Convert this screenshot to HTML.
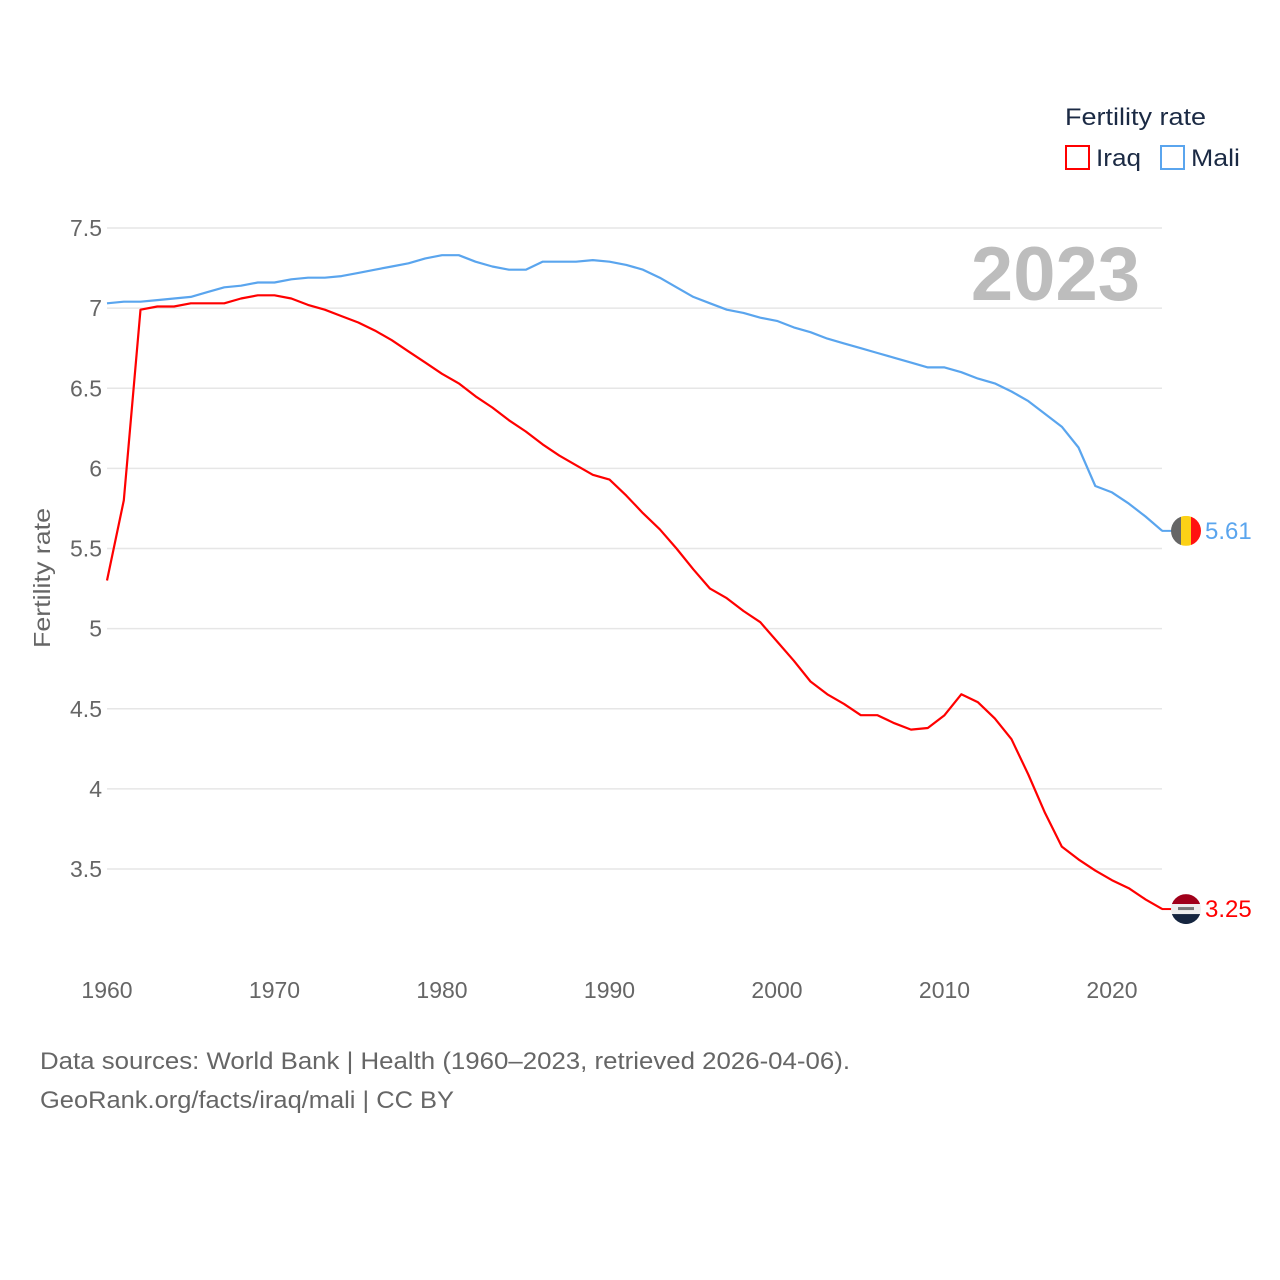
<!DOCTYPE html>
<html><head><meta charset="utf-8"><style>
body{margin:0;background:#fff;font-family:"Liberation Sans",sans-serif}
svg{display:block}
</style></head><body>
<svg id="chart" width="1280" height="1280" xmlns="http://www.w3.org/2000/svg">
<rect width="1280" height="1280" fill="#fff"/>
<g id="grid"></g>
<g id="ylabels" font-size="23" fill="#666" text-anchor="end"></g>
<g id="xlabels" font-size="23" fill="#666" text-anchor="middle"></g>
<text x="1140" y="300" font-size="76" font-weight="bold" fill="#bdbdbd" text-anchor="end">2023</text>
<text transform="translate(50,578) rotate(-90)" font-size="23" fill="#666" text-anchor="middle" textLength="140" lengthAdjust="spacingAndGlyphs">Fertility rate</text>
<g id="series"></g>
<g>
<text x="1065" y="125" font-size="24" fill="#1b2a44" textLength="141" lengthAdjust="spacingAndGlyphs">Fertility rate</text>
<g><rect x="1066" y="146" width="23" height="23" fill="none" stroke="#ff0000" stroke-width="2"/><text x="1096" y="166" font-size="24" fill="#1b2a44" textLength="45" lengthAdjust="spacingAndGlyphs">Iraq</text></g>
<g><rect x="1161" y="146" width="23" height="23" fill="none" stroke="#5aa5ee" stroke-width="2"/><text x="1191" y="166" font-size="24" fill="#1b2a44" textLength="49" lengthAdjust="spacingAndGlyphs">Mali</text></g>
</g>
<text x="40" y="1069" font-size="24" fill="#666" textLength="810" lengthAdjust="spacingAndGlyphs">Data sources: World Bank | Health (1960–2023, retrieved 2026-04-06).</text>
<text x="40" y="1108" font-size="24" fill="#666" textLength="414" lengthAdjust="spacingAndGlyphs">GeoRank.org/facts/iraq/mali | CC BY</text>
</svg>
<script>
const years=[];for(let y=1960;y<=2023;y++)years.push(y);
const iraq=[5.30,5.80,6.99,7.01,7.01,7.03,7.03,7.03,7.06,7.08,7.08,7.06,7.02,6.99,6.95,6.91,6.86,6.80,6.73,6.66,6.59,6.53,6.45,6.38,6.30,6.23,6.15,6.08,6.02,5.96,5.93,5.83,5.72,5.62,5.50,5.37,5.25,5.19,5.11,5.04,4.92,4.80,4.67,4.59,4.53,4.46,4.46,4.41,4.37,4.38,4.46,4.59,4.54,4.44,4.31,4.09,3.85,3.64,3.56,3.49,3.43,3.38,3.31,3.25];
const mali=[7.03,7.04,7.04,7.05,7.06,7.07,7.10,7.13,7.14,7.16,7.16,7.18,7.19,7.19,7.20,7.22,7.24,7.26,7.28,7.31,7.33,7.33,7.29,7.26,7.24,7.24,7.29,7.29,7.29,7.30,7.29,7.27,7.24,7.19,7.13,7.07,7.03,6.99,6.97,6.94,6.92,6.88,6.85,6.81,6.78,6.75,6.72,6.69,6.66,6.63,6.63,6.60,6.56,6.53,6.48,6.42,6.34,6.26,6.13,5.89,5.85,5.78,5.70,5.61];
const yTicks=[3.5,4,4.5,5,5.5,6,6.5,7,7.5];
const yTickLabels=["3.5","4","4.5","5","5.5","6","6.5","7","7.5"];
const xTicks=[1960,1970,1980,1990,2000,2010,2020];
const X=y=>107+(y-1960)*16.75;
const Y=v=>228+(7.5-v)*160.25;
const NS="http://www.w3.org/2000/svg";
function mk(t,a,p){const e=document.createElementNS(NS,t);for(const k in a)e.setAttribute(k,a[k]);p.appendChild(e);return e;}
const grid=document.getElementById('grid'),yl=document.getElementById('ylabels'),xl=document.getElementById('xlabels'),ser=document.getElementById('series');
yTicks.forEach((v,i)=>{
 const l=mk('line',{x1:107,x2:1162,y1:Y(v),y2:Y(v),stroke:'#e6e6e6','stroke-width':1.5},grid);
 
 
 const t=mk('text',{x:102,y:Y(v)+8},yl);t.textContent=yTickLabels[i];
 
 
});
xTicks.forEach(y=>{
 const t=mk('text',{x:X(y),y:998},xl);t.textContent=String(y);
 
 
});
function line(data,color,name){
 const d=data.map((v,i)=>(i?'L':'M')+X(years[i]).toFixed(1)+','+Y(v).toFixed(1)).join('');
 const p=mk('path',{d:d,fill:'none',stroke:color,'stroke-width':2.2,'stroke-linejoin':'round'},ser);
 
 
}
line(mali,'#5aa5ee','mali-line');
line(iraq,'#ff0000','iraq-line');
function endMark(data,color,name,flag){
 const v=data[data.length-1],cx=1186,cy=Y(v);
 const g=mk('g',{},ser);
 
 
 mk('line',{x1:1162,x2:1172,y1:cy,y2:cy,stroke:color,'stroke-width':2},g);
 const id='c'+name;
 const cp=mk('clipPath',{id:id},g);mk('circle',{cx:cx,cy:cy,r:15},cp);
 const fg=mk('g',{'clip-path':'url(#'+id+')'},g);
 if(flag==='mali'){
  mk('rect',{x:cx-15,y:cy-15,width:10,height:30,fill:'#666'},fg);
  mk('rect',{x:cx-5,y:cy-15,width:10,height:30,fill:'#fcd116'},fg);
  mk('rect',{x:cx+5,y:cy-15,width:10,height:30,fill:'#f11'},fg);
 }else{
  mk('rect',{x:cx-15,y:cy-15,width:30,height:10,fill:'#a0001a'},fg);
  mk('rect',{x:cx-15,y:cy-5,width:30,height:10,fill:'#eee'},fg);
  mk('rect',{x:cx-15,y:cy+5,width:30,height:10,fill:'#15253f'},fg);
  mk('rect',{x:cx-8,y:cy-2,width:16,height:3,fill:'#777'},fg);
 }
 const t=mk('text',{x:1205,y:cy+8,'font-size':24,fill:color},g);t.textContent=v.toFixed(2);
}
endMark(mali,'#5aa5ee','mali-end-label','mali');
endMark(iraq,'#ff0000','iraq-end-label','iraq');
</script>
</body></html>
